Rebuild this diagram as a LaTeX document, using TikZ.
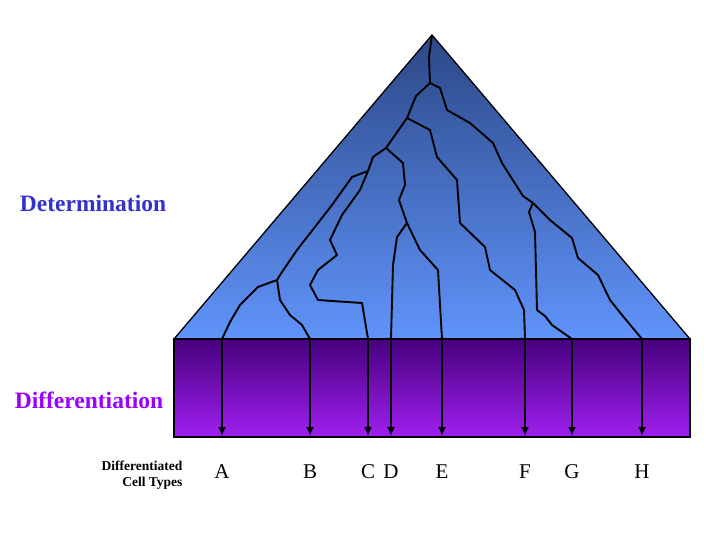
\documentclass[tikz,border=0pt]{standalone}
\usepackage{fontspec}
\setmainfont{Liberation Serif}
\usetikzlibrary{arrows.meta}
\definecolor{detblue}{RGB}{51,51,204}
\definecolor{difpurple}{RGB}{153,0,255}
\begin{document}
\begin{tikzpicture}[x=1pt, y=-1pt,
  lineage/.style={black, line width=1.9pt, line join=round},
  fate/.style={black, line width=1.6pt, -{Latex[length=9pt,width=8pt]}},
  letter/.style={font=\fontsize{21}{23}\selectfont}]

\useasboundingbox (0,0) rectangle (719,539);

% triangle and band
\fill[top color={rgb,255:red,44;green,72;blue,135}, bottom color={rgb,255:red,96;green,148;blue,250}]
  (432,35) -- (690,339) -- (174,339) -- cycle;
\draw[line width=1.3pt] (432,35) -- (690,339) -- (174,339) -- cycle;
\fill[top color={rgb,255:red,70;green,0;blue,125}, bottom color={rgb,255:red,160;green,32;blue,240}]
  (174,339) rectangle (690,437);
\draw[line width=1.3pt] (174,339) rectangle (690,437);

% branch points
\coordinate (p1) at (430,83);
\coordinate (p2) at (533,203);
\coordinate (p3) at (407,118);
\coordinate (p4) at (386,148);
\coordinate (p5) at (407,223);
\coordinate (p6) at (368,171);
\coordinate (p7) at (277,280);

% base points
\foreach \n/\x in {A/222, B/310, C/368, D/391, E/442, F/525, G/572, H/642} {
  \coordinate (top\n) at (\x,339);
  \coordinate (bot\n) at (\x,436);
  \node[letter] (lab\n) at (\x,472) {\n};
}

% lineage tree
\draw[lineage] (432,35) -- (429,57) -- (p1);
\draw[lineage] (p1) -- (440,88) -- (447,110) -- (470,123) -- (493,143) -- (502,163) -- (523,196) -- (p2);
\draw[lineage] (p2) -- (529,212) -- (535,232) -- (537,310) -- (545,316) -- (552,325) -- (topG);
\draw[lineage] (p2) -- (550,220) -- (572,238) -- (578,258) -- (598,275) -- (610,300) -- (622,315) -- (topH);
\draw[lineage] (p1) -- (416,96) -- (p3);
\draw[lineage] (p3) -- (430,130) -- (437,157) -- (457,180) -- (460,223) -- (485,247) -- (490,270) -- (515,290) -- (524,310) -- (topF);
\draw[lineage] (p3) -- (p4);
\draw[lineage] (p4) -- (403,163) -- (405,185) -- (399,200) -- (p5);
\draw[lineage] (p5) -- (420,250) -- (438,270) -- (topE);
\draw[lineage] (p5) -- (397,237) -- (393,265) -- (topD);
\draw[lineage] (p4) -- (373,157) -- (p6);
\draw[lineage] (p6) -- (352,177) -- (332,205) -- (318,223) -- (297,250) -- (282,272) -- (p7);
\draw[lineage] (p7) -- (258,287) -- (240,305) -- (230,322) -- (topA);
\draw[lineage] (p7) -- (280,300) -- (290,315) -- (302,325) -- (topB);
\draw[lineage] (p6) -- (360,190) -- (342,215) -- (330,240) -- (337,255) -- (318,270) -- (310,285) -- (318,300) -- (362,303) -- (topC);

% arrows through band
\foreach \n in {A,B,C,D,E,F,G,H}
  \draw[fate] (top\n) -- (bot\n);

% labels
\node[font=\fontsize{23.5}{25}\selectfont\bfseries, text=detblue] (det) at (93,203) {Determination};
\node[font=\fontsize{23.5}{25}\selectfont\bfseries, text=difpurple] (dif) at (89,400) {Differentiation};
\node[font=\fontsize{13.5}{16}\selectfont\bfseries, align=right, anchor=east] (cells) at (186,475) {Differentiated\\Cell Types};
\end{tikzpicture}
\end{document}
